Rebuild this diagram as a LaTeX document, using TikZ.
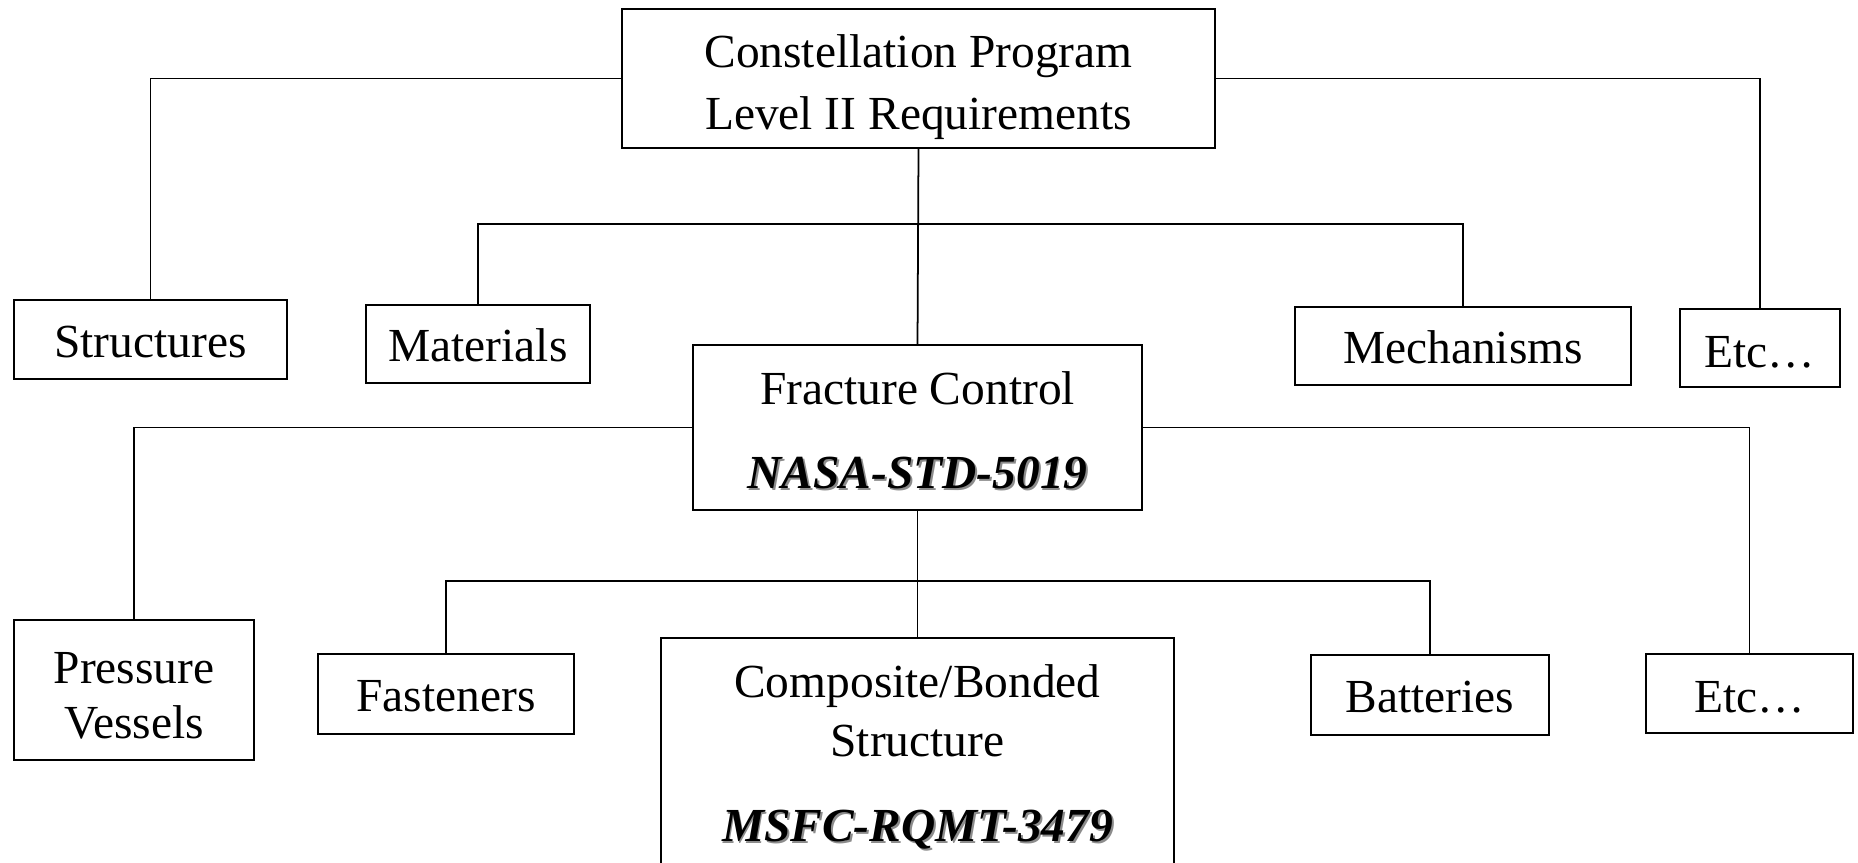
\documentclass[tikz,border=0pt]{standalone}
\usepackage{fontspec}
\setmainfont{Liberation Serif}
\usepackage{xcolor}
\definecolor{shadowgray}{gray}{0.55}

% bold italic code with a soft grey shadow
\newcommand{\stdcode}[1]{\textbf{\textit{\rlap{\hspace{1.1pt}\raisebox{-1.1pt}{\color{shadowgray}#1}}#1}}}

\begin{document}
\begin{tikzpicture}[
    x=0.02cm, y=-0.02cm,
    box/.style={rectangle, draw=black, line width=1.1pt, fill=white,
                inner sep=0pt, align=center,
                font=\fontsize{27}{34}\selectfont},
    oneline/.style={box, text height=20pt, text depth=0pt},
    etcline/.style={box, text height=22pt, text depth=0pt},
    link/.style={line width=1pt, black}
  ]
    \path[use as bounding box, clip] (0,0) rectangle (1858,862);
    \fill[white] (0,0) rectangle (1858,862);

    % top level
    \node[box, minimum width=593*0.02cm, minimum height=139*0.02cm] (prog) at (918.5,78.5)
      {\rule{0pt}{29pt}Constellation Program\\[1.3pt]Level II Requirements};

    % disciplines
    \node[oneline, minimum width=273*0.02cm, minimum height=79*0.02cm] (struct) at (150.5,339.5) {Structures};
    \node[oneline, minimum width=224*0.02cm, minimum height=78*0.02cm] (mater) at (478,344) {Materials};
    \node[oneline, minimum width=336*0.02cm, minimum height=78*0.02cm] (mech) at (1463,346) {Mechanisms};
    \node[etcline, minimum width=160*0.02cm, minimum height=78*0.02cm] (etcA) at (1760,348) {Etc\dots};
    \node[box, minimum width=449*0.02cm, minimum height=165*0.02cm] (fract) at (917.5,427.5)
      {\rule{0pt}{23pt}Fracture Control\\[14.3pt]\stdcode{NASA-STD-5019}};

    % fracture control items
    \node[box, minimum width=240*0.02cm, minimum height=140*0.02cm] (press) at (134,690)
      {\rule{0pt}{24.4pt}Pressure\\[-3pt]Vessels};
    \node[oneline, minimum width=256*0.02cm, minimum height=80*0.02cm] (fast) at (446,694) {Fasteners};
    \node[box, minimum width=513*0.02cm, minimum height=264*0.02cm] (comp) at (917.5,770)
      {Composite/Bonded\\Structure\\[14pt]\stdcode{MSFC-RQMT-3479}\rule[-19.6pt]{0pt}{0pt}};
    \node[oneline, minimum width=238*0.02cm, minimum height=80*0.02cm] (batt) at (1430,695) {Batteries};
    \node[etcline, minimum width=207*0.02cm, minimum height=79*0.02cm] (etcB) at (1749.5,693.5) {Etc\dots};

    \coordinate (jA) at (918,224);
    \coordinate (jB) at (918,581);

    \draw[link] (prog.west) -| (struct.north);
    \draw[link] (prog.east) -| (etcA.north);
    \draw[link] (prog.south) -- (fract.north);
    \draw[link] (mater.north) |- (jA) -| (mech.north);
    \draw[link] (fract.west) -| (press.north);
    \draw[link] (fract.east) -| (etcB.north);
    \draw[link] (fract.south) -- (comp.north);
    \draw[link] (fast.north) |- (jB) -| (batt.north);
  \end{tikzpicture}
\end{document}
